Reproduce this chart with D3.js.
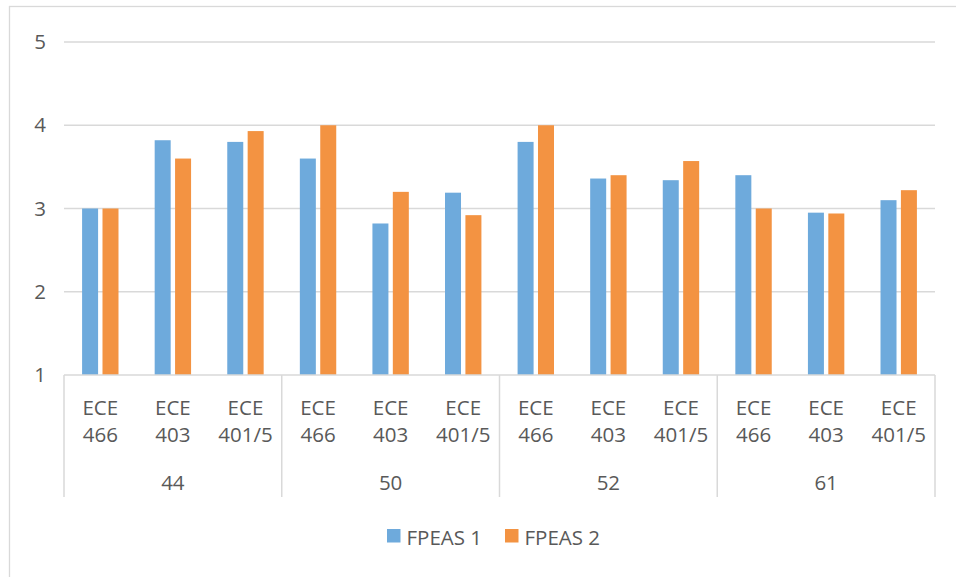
<!DOCTYPE html>
<html><head><meta charset="utf-8">
<script src="https://cdn.jsdelivr.net/npm/d3@7"></script>
<style>body{margin:0;background:#fff;} svg{display:block;} text{font-family:"Open Sans","Noto Sans",sans-serif;fill:#595959;}</style>
</head><body><svg id="c" width="956" height="577"></svg>
<script>
const groups = ["44","50","52","61"];
const courses = ["ECE 466","ECE 403","ECE 401/5"];
const seriesNames = ["FPEAS 1","FPEAS 2"];
const fpeas1 = [3.00,3.82,3.80, 3.60,2.82,3.19, 3.80,3.36,3.34, 3.40,2.95,3.10];
const fpeas2 = [3.00,3.60,3.93, 4.00,3.20,2.92, 4.00,3.40,3.57, 3.00,2.94,3.22];
const yTicks = [1,2,3,4,5];
const colors = ["#6eaadc","#f39342"];

const FS = 20.5;
const svg = d3.select("#c");
const L=64, R=935, T=42, B=375;
svg.append("rect").attr("x",9.5).attr("y",6.5).attr("width",960).attr("height",600)
  .attr("fill","none").attr("stroke","#d9d9d9").attr("stroke-width",1.3);

const cats = [];
groups.forEach(g=>courses.forEach(c=>cats.push(g+"|"+c)));
const x = d3.scaleBand().domain(cats).range([L,R]).paddingInner(0).paddingOuter(0);
const y = d3.scaleLinear().domain([1,5]).range([B,T]);

// gridlines
svg.append("g").selectAll("line").data(yTicks.slice(1)).join("line")
  .attr("x1",L).attr("x2",R).attr("y1",d=>y(d)).attr("y2",d=>y(d))
  .attr("stroke","#d9d9d9").attr("stroke-width",1.5);
// y labels
const yAxis = d3.axisLeft(y).tickValues(yTicks).tickFormat(d3.format("d")).tickSize(0).tickPadding(0);
const ya = svg.append("g").attr("transform",`translate(40,0)`).call(yAxis);
ya.select(".domain").remove();
ya.selectAll("text").attr("font-size",FS).attr("text-anchor","middle").attr("dx",0).attr("fill","#595959")
  .style("font-family",'"Open Sans","Noto Sans",sans-serif');

// bars
const bw = 16, gap = 4.4;
const data = cats.map((c,i)=>({c, v:[fpeas1[i],fpeas2[i]]}));
const gb = svg.append("g");
data.forEach(d=>{
  const cx = x(d.c)+x.bandwidth()/2;
  d.v.forEach((v,s)=>{
    const x0 = s===0 ? cx-gap/2-bw : cx+gap/2;
    gb.append("rect").attr("x",x0).attr("y",y(v)).attr("width",bw).attr("height",y(1)-y(v))
      .attr("fill",colors[s]);
  });
});

// x axis line
svg.append("line").attr("x1",L).attr("x2",R).attr("y1",B).attr("y2",B).attr("stroke","#d9d9d9").attr("stroke-width",1.5);
// separators
const gw = (R-L)/groups.length;
const sepX = d3.range(groups.length+1).map(i=>L+i*gw);
svg.append("g").selectAll("line").data(sepX).join("line")
  .attr("x1",d=>d).attr("x2",d=>d).attr("y1",B).attr("y2",497)
  .attr("stroke","#d9d9d9").attr("stroke-width",1.5);
// category labels
const cl = svg.append("g");
cats.forEach(c=>{
  const cx = x(c)+x.bandwidth()/2;
  const parts = c.split("|")[1].split(" ");
  const t = cl.append("text").attr("text-anchor","middle").attr("font-size",FS);
  t.append("tspan").attr("x",cx).attr("y",415).text(parts[0]);
  t.append("tspan").attr("x",cx).attr("y",441.5).text(parts[1]);
});
// group labels
svg.append("g").selectAll("text").data(groups).join("text")
  .attr("x",(d,i)=>L+gw*(i+0.5)).attr("y",490).attr("text-anchor","middle").attr("font-size",FS).text(d=>d);

// legend
const lg = svg.append("g");
const lx = [387,505];
seriesNames.forEach((n,i)=>{
  lg.append("rect").attr("x",lx[i]).attr("y",529).attr("width",13.5).attr("height",13.5).attr("fill",colors[i]);
  lg.append("text").attr("x",lx[i]+19.5).attr("y",545).attr("font-size",FS).text(n);
});
</script></body></html>
